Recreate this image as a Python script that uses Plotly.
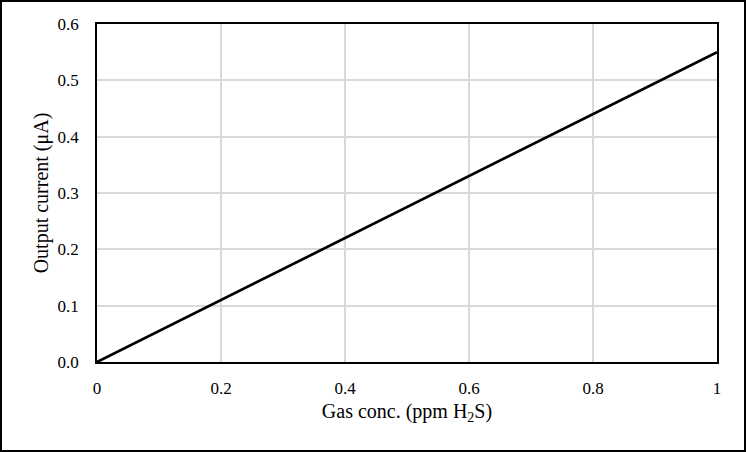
import plotly.graph_objects as go

gas_conc = [0, 0.2, 0.4, 0.6, 0.8, 1.0]
output_current = [0, 0.11, 0.22, 0.33, 0.44, 0.55]
x_ticks = [0, 0.2, 0.4, 0.6, 0.8, 1]
x_tick_labels = ["0", "0.2", "0.4", "0.6", "0.8", "1"]
y_ticks = [0, 0.1, 0.2, 0.3, 0.4, 0.5, 0.6]
y_tick_labels = ["0.0", "0.1", "0.2", "0.3", "0.4", "0.5", "0.6"]

W, H = 746, 452
L, R, T, B = 97, 29, 24, 90
pw, ph = W - L - R, H - T - B

fig = go.Figure()
fig.add_trace(go.Scatter(x=gas_conc, y=output_current, mode="lines",
                         line=dict(color="black", width=2.7), showlegend=False))

font = "Liberation Serif, Times New Roman, serif"
fig.update_layout(
    width=W, height=H,
    margin=dict(l=L, r=R, t=T, b=B),
    paper_bgcolor="white", plot_bgcolor="white",
    font=dict(family=font, size=17, color="black"),
    xaxis=dict(range=[0, 1], tickvals=x_ticks, ticktext=x_tick_labels,
               showgrid=True, gridcolor="#d9d9d9", gridwidth=1.5,
               showline=True, linecolor="black", linewidth=1.5, mirror=True,
               ticks="", zeroline=False, ticklabelstandoff=10,
               title=dict(text="Gas conc. (ppm H<sub>2</sub>S)", font=dict(size=20), standoff=7)),
    yaxis=dict(range=[0, 0.6], tickvals=y_ticks, ticktext=y_tick_labels,
               showgrid=True, gridcolor="#d9d9d9", gridwidth=1.5,
               showline=True, linecolor="black", linewidth=1.5, mirror=True,
               ticks="", zeroline=False, ticklabelstandoff=13,
               title=dict(text="Output current (μA)", font=dict(size=20), standoff=4)),
    shapes=[dict(type="rect", xref="paper", yref="paper",
                 x0=(1 - L) / pw, x1=(W - 1 - L) / pw,
                 y0=-(H - 1 - T - ph) / ph, y1=1 + (T - 1) / ph,
                 line=dict(color="black", width=2), layer="above")],
)

fig.write_html("out.html", config={"displayModeBar": False},
               post_script="document.body.style.margin='0';document.body.style.padding='0';")
